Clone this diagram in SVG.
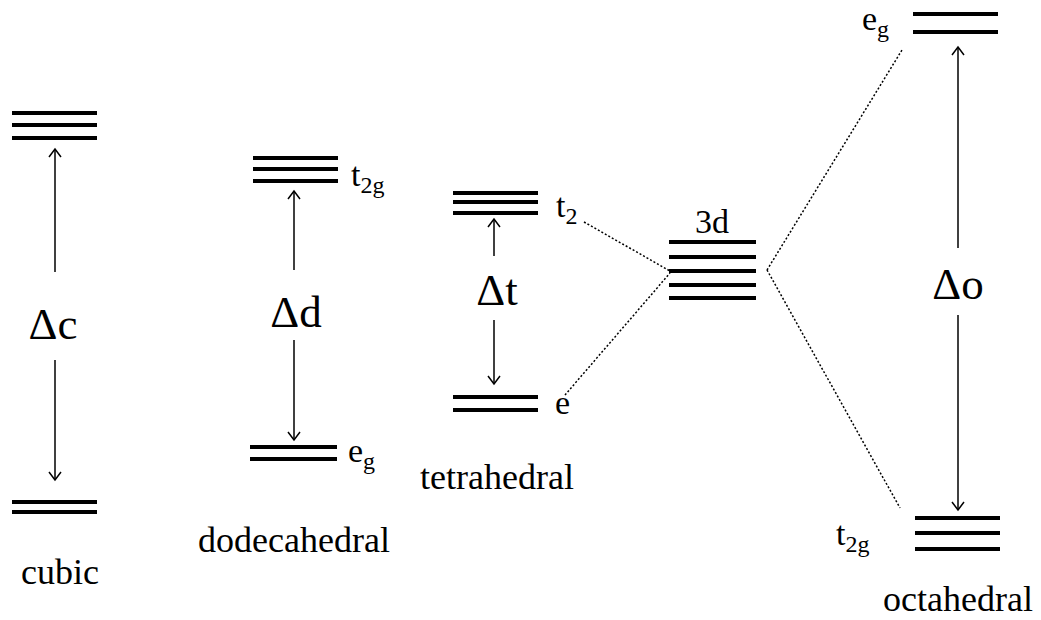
<svg xmlns="http://www.w3.org/2000/svg" width="1041" height="620" viewBox="0 0 1041 620">
<style>
.lv{stroke:#000;stroke-width:4;fill:none}
.ar{stroke:#000;stroke-width:1.5;fill:none}
.dt{stroke:#000;stroke-width:1.5;stroke-dasharray:2 2;fill:none}
text{font-family:"Liberation Serif","DejaVu Serif",serif;fill:#000}
.lb{font-size:36px}
.dl{font-size:45px}
.sm{font-size:34px}
.sb{font-size:24px}
</style>
<defs>
<marker id="ah" markerWidth="14" markerHeight="14" refX="12" refY="7" orient="auto" markerUnits="userSpaceOnUse" viewBox="0 0 14 14">
<polyline points="4,1 12,7 4,13" fill="none" stroke="#000" stroke-width="1.5"/>
</marker>
</defs>
<rect width="1041" height="620" fill="#fff"/>
<g id="cubic">
<line class="lv" x1="12" y1="113" x2="97" y2="113"/>
<line class="lv" x1="12" y1="125" x2="97" y2="125"/>
<line class="lv" x1="12" y1="138" x2="97" y2="138"/>
<line class="lv" x1="12" y1="502" x2="97" y2="502"/>
<line class="lv" x1="12" y1="512" x2="97" y2="512"/>
<text class="lb" x="60" y="584" text-anchor="middle">cubic</text>
<text class="dl" x="53" y="339" text-anchor="middle">Δc</text>
</g>
<g id="dodecahedral">
<line class="lv" x1="253" y1="158" x2="338" y2="158"/>
<line class="lv" x1="253" y1="169" x2="338" y2="169"/>
<line class="lv" x1="253" y1="181" x2="338" y2="181"/>
<line class="lv" x1="250" y1="447" x2="337" y2="447"/>
<line class="lv" x1="250" y1="459" x2="337" y2="459"/>
<text x="351" y="186"><tspan class="sm">t</tspan><tspan class="sb" dy="7">2g</tspan></text>
<text x="348" y="462"><tspan class="sm">e</tspan><tspan class="sb" dy="7">g</tspan></text>
<text class="dl" x="296" y="327" text-anchor="middle">Δd</text>
<text class="lb" x="294" y="552" text-anchor="middle">dodecahedral</text>
</g>
<g id="tetrahedral">
<line class="lv" x1="453" y1="193" x2="538" y2="193"/>
<line class="lv" x1="453" y1="202" x2="538" y2="202"/>
<line class="lv" x1="453" y1="213" x2="538" y2="213"/>
<line class="lv" x1="453" y1="397" x2="538" y2="397"/>
<line class="lv" x1="453" y1="410" x2="538" y2="410"/>
<text x="556" y="217"><tspan class="sm">t</tspan><tspan class="sb" dy="7">2</tspan></text>
<text class="sm" x="555" y="414">e</text>
<text class="dl" x="497" y="305" text-anchor="middle">Δt</text>
<text class="lb" x="497" y="489" text-anchor="middle">tetrahedral</text>
</g>
<g id="free-ion">
<line class="lv" x1="669" y1="242" x2="756" y2="242"/>
<line class="lv" x1="669" y1="257" x2="756" y2="257"/>
<line class="lv" x1="669" y1="271" x2="756" y2="271"/>
<line class="lv" x1="669" y1="285" x2="756" y2="285"/>
<line class="lv" x1="669" y1="298" x2="756" y2="298"/>
<text class="sm" x="712" y="233" text-anchor="middle">3d</text>
</g>
<g id="octahedral">
<line class="lv" x1="913" y1="14" x2="998" y2="14"/>
<line class="lv" x1="913" y1="32" x2="998" y2="32"/>
<line class="lv" x1="915" y1="518" x2="1000" y2="518"/>
<line class="lv" x1="915" y1="533" x2="1000" y2="533"/>
<line class="lv" x1="915" y1="549" x2="1000" y2="549"/>
<text x="862" y="30"><tspan class="sm">e</tspan><tspan class="sb" dy="7">g</tspan></text>
<text x="836" y="545"><tspan class="sm">t</tspan><tspan class="sb" dy="7">2g</tspan></text>
<text class="dl" x="958" y="299" text-anchor="middle">Δo</text>
<text class="lb" x="958" y="611" text-anchor="middle">octahedral</text>
</g>
<g id="connectors">
<line class="ar" x1="55" y1="272" x2="55" y2="149" marker-end="url(#ah)"/>
<line class="ar" x1="55" y1="360" x2="55" y2="480" marker-end="url(#ah)"/>
<line class="ar" x1="294" y1="270" x2="294" y2="191" marker-end="url(#ah)"/>
<line class="ar" x1="294" y1="340" x2="294" y2="440" marker-end="url(#ah)"/>
<line class="ar" x1="494" y1="256" x2="494" y2="219" marker-end="url(#ah)"/>
<line class="ar" x1="494" y1="320" x2="494" y2="384" marker-end="url(#ah)"/>
<line class="ar" x1="958" y1="248" x2="958" y2="47" marker-end="url(#ah)"/>
<line class="ar" x1="958" y1="315" x2="958" y2="510" marker-end="url(#ah)"/>
<line class="dt" x1="584" y1="222" x2="670" y2="271"/>
<line class="dt" x1="565" y1="395" x2="670" y2="273"/>
<line class="dt" x1="767" y1="270" x2="902" y2="50"/>
<line class="dt" x1="767" y1="270" x2="900" y2="508"/>
</g>
</svg>
